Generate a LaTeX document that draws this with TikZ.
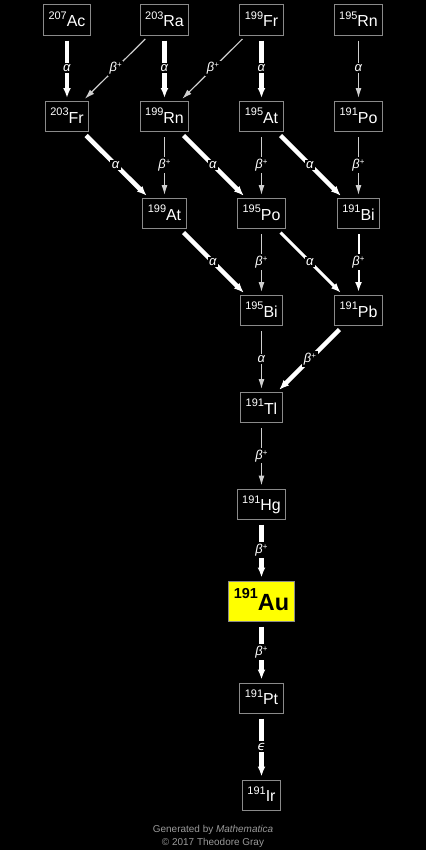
\documentclass[tikz,border=0pt]{standalone}
\usepackage{fontspec}
\setmainfont{Liberation Sans}
\newfontfamily\dejavu{DejaVu Sans}
\usetikzlibrary{arrows.meta}
\definecolor{boxgray}{HTML}{8A8A8A}
\definecolor{thingray}{HTML}{CFCFCF}
\definecolor{footgray}{HTML}{9A9A9A}
\definecolor{auyellow}{HTML}{FFFF00}
\newcommand\nuc[2]{\raisebox{7.5bp}{\fontsize{11}{11}\selectfont #1}{\fontsize{16}{16}\selectfont #2}}
\newcommand\bignuc[2]{\bfseries\raisebox{12bp}{\fontsize{14.5}{14.5}\selectfont #1}{\fontsize{23.5}{23.5}\selectfont #2}}
\newcommand\alab{\textit{α}}
\newcommand\blab{\textit{β}\raisebox{4bp}{\fontsize{8}{8}\selectfont +}}
\newcommand\elab{{\dejavu\itshape ϵ}}
\begin{document}
\begin{tikzpicture}[x=1bp,y=-1bp,
  nucbox/.style={draw=boxgray, line width=1bp, fill=black, text=white, minimum height=30bp,
    inner xsep=5bp, inner ysep=0pt, text height=13.4bp, text depth=0pt},
  goldbox/.style={draw=boxgray, line width=1bp, fill=auyellow, text=black, minimum height=40bp,
    inner xsep=5bp, inner ysep=0pt, text height=19.4bp, text depth=0pt},
  lab/.style={fill=black, text=white, inner sep=1.5bp, font=\fontsize{13}{13}\selectfont},
  decay/.style={shorten <=5bp, shorten >=3bp},
  strong/.style={decay, draw=white, line width=4.5bp, -{Latex[length=10bp,width=8bp]}},
  med/.style={decay, draw=white, line width=3bp, -{Latex[length=10bp,width=7.5bp]}},
  light/.style={decay, draw=white, line width=2bp, -{Latex[length=10bp,width=7bp]}},
  weak/.style={decay, draw=thingray, line width=1.2bp, -{Latex[length=10bp,width=6bp]}},
  foot/.style={text=footgray, font=\fontsize{10}{10}\selectfont, inner sep=0pt}
]
\fill[black] (0,0) rectangle (426,850);
\useasboundingbox (0,0) rectangle (426,850);

% row 1
\node[nucbox] (ac207) at (67,20) {\nuc{207}{Ac}};
\node[nucbox] (ra203) at (164.5,20) {\nuc{203}{Ra}};
\node[nucbox] (fr199) at (261.5,20) {\nuc{199}{Fr}};
\node[nucbox] (rn195) at (358.5,20) {\nuc{195}{Rn}};
% row 2
\node[nucbox] (fr203) at (67,116.5) {\nuc{203}{Fr}};
\node[nucbox] (rn199) at (164.5,116.5) {\nuc{199}{Rn}};
\node[nucbox] (at195) at (261.5,116.5) {\nuc{195}{At}};
\node[nucbox] (po191) at (358.5,116.5) {\nuc{191}{Po}};
% row 3
\node[nucbox] (at199) at (164.5,213.5) {\nuc{199}{At}};
\node[nucbox] (po195) at (261.5,213.5) {\nuc{195}{Po}};
\node[nucbox] (bi191) at (358.5,213.5) {\nuc{191}{Bi}};
% row 4
\node[nucbox] (bi195) at (261.5,310.5) {\nuc{195}{Bi}};
\node[nucbox] (pb191) at (358.5,310.5) {\nuc{191}{Pb}};
% chain
\node[nucbox] (tl191) at (261.5,407.5) {\nuc{191}{Tl}};
\node[nucbox] (hg191) at (261.5,504) {\nuc{191}{Hg}};
\node[goldbox] (au191) at (261.5,601) {\bignuc{191}{Au}};
\node[nucbox] (pt191) at (261.5,698) {\nuc{191}{Pt}};
\node[nucbox] (ir191) at (261.5,795) {\nuc{191}{Ir}};

% decays
\draw[strong] (ac207) -- node[lab]{\alab} (fr203);
\draw[weak] (ra203) -- node[lab]{\blab} (fr203);
\draw[strong] (ra203) -- node[lab]{\alab} (rn199);
\draw[weak] (fr199) -- node[lab]{\blab} (rn199);
\draw[strong] (fr199) -- node[lab]{\alab} (at195);
\draw[weak] (rn195) -- node[lab]{\alab} (po191);
\draw[strong] (fr203) -- node[lab]{\alab} (at199);
\draw[weak] (rn199) -- node[lab]{\blab} (at199);
\draw[strong] (rn199) -- node[lab]{\alab} (po195);
\draw[weak] (at195) -- node[lab]{\blab} (po195);
\draw[strong] (at195) -- node[lab]{\alab} (bi191);
\draw[weak] (po191) -- node[lab]{\blab} (bi191);
\draw[strong] (at199) -- node[lab]{\alab} (bi195);
\draw[weak] (po195) -- node[lab]{\blab} (bi195);
\draw[med] (po195) -- node[lab]{\alab} (pb191);
\draw[light] (bi191) -- node[lab]{\blab} (pb191);
\draw[weak] (bi195) -- node[lab]{\alab} (tl191);
\draw[strong] (pb191) -- node[lab]{\blab} (tl191);
\draw[weak] (tl191) -- node[lab]{\blab} (hg191);
\draw[strong] (hg191) -- node[lab]{\blab} (au191);
\draw[strong] (au191) -- node[lab]{\blab} (pt191);
\draw[strong] (pt191) -- node[lab]{\elab} (ir191);

% footer
\node[foot] (gen) at (213,830) {Generated by \textit{Mathematica}};
\node[foot] (copy) at (213,843) {© 2017 Theodore Gray};
\end{tikzpicture}
\end{document}
